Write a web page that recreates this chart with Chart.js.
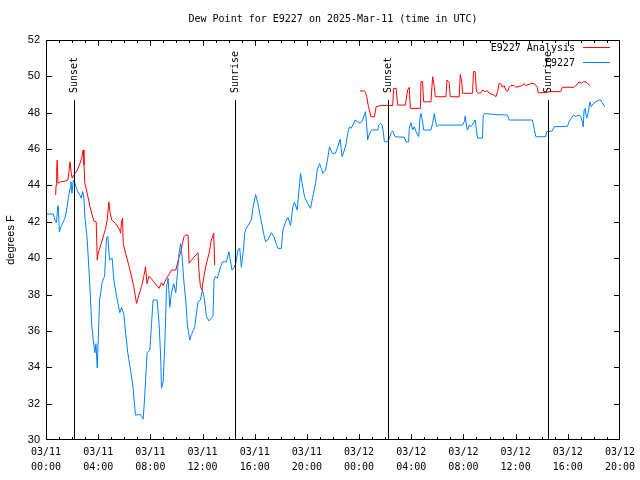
<!DOCTYPE html>
<html><head><meta charset="utf-8">
<script src="https://cdn.jsdelivr.net/npm/chart.js@4/dist/chart.umd.min.js"></script>
<style>html,body{margin:0;padding:0;background:#fff}#wrap{width:640px;height:480px}</style>
</head><body><div id="wrap"><canvas id="c" width="640" height="480"></canvas></div>
<script>
const titleText = 'Dew Point for E9227 on 2025-Mar-11 (time in UTC)';
const yAxisTitle = 'degrees F';
const seriesNames = ['E9227 Analysis', 'E9227'];
const tickDates = ['03/11','03/11','03/11','03/11','03/11','03/11','03/12','03/12','03/12','03/12','03/12','03/12'];
const tickTimes = ['00:00','04:00','08:00','12:00','16:00','20:00','00:00','04:00','08:00','12:00','16:00','20:00'];
const sunHours = [2.17, 14.48, 26.22, 38.51];
const sunLabels = ['Sunset', 'Sunrise', 'Sunset', 'Sunrise'];

// hours since 03/11 00:00 UTC
const obsHours = [0.08,0.56,0.69,0.80,0.90,0.94,1.02,1.19,1.45,1.58,1.71,1.84,1.91,1.99,2.09,2.17,2.30,2.43,2.60,2.70,2.81,2.91,2.98,3.16,3.34,3.50,3.62,3.75,3.83,3.93,4.00,4.11,4.31,4.49,4.64,4.74,4.87,5.07,5.20,5.41,5.66,5.79,5.97,6.10,6.27,6.48,6.68,6.86,7.25,7.45,7.55,7.75,7.96,8.09,8.21,8.52,8.67,8.80,8.85,8.98,9.11,9.24,9.36,9.49,9.62,9.79,9.95,10.08,10.20,10.33,10.43,10.56,10.71,10.84,11.02,11.15,11.40,11.65,11.84,11.99,12.11,12.30,12.50,12.68,12.80,12.88,12.99,13.14,13.31,13.52,13.83,14.03,14.13,14.26,14.39,14.54,14.72,14.85,14.98,15.15,15.23,15.36,15.74,15.86,16.07,16.25,16.38,16.51,16.68,16.83,17.01,17.27,17.47,17.65,17.78,18.04,18.16,18.37,18.54,18.75,18.92,19.05,19.26,19.44,19.51,19.64,19.82,20.07,20.28,20.45,20.66,20.79,20.97,21.10,21.22,21.43,21.60,21.73,21.94,22.19,22.37,22.55,22.70,22.88,23.01,23.13,23.26,23.39,23.52,23.70,23.90,24.10,24.28,24.41,24.49,24.59,24.66,24.74,24.87,24.97,25.43,25.51,25.63,25.77,25.86,25.94,26.19,26.32,26.45,26.58,26.76,27.47,27.60,27.80,27.85,27.98,28.11,28.24,28.37,28.57,28.67,28.75,28.87,28.95,29.51,29.64,29.77,29.84,29.97,30.10,31.93,32.06,32.14,32.24,32.32,32.45,32.58,32.83,32.90,33.00,33.08,33.46,33.52,33.67,34.36,35.38,35.51,37.29,37.42,37.55,38.31,38.39,38.82,38.95,39.97,40.10,40.27,40.43,40.61,40.86,40.99,41.12,41.19,41.25,41.32,41.45,41.55,41.70,41.80,41.96,42.14,42.39,42.52,42.65,42.83];
const obsDewF = [42.43,42.43,42.1,41.95,42.83,42.9,41.45,41.8,42.2,42.65,43.3,43.84,44.2,43.57,44.3,44.2,43.93,43.66,43.47,43.3,43.66,43.3,42.28,41.0,38.8,36.4,35.5,34.8,35.3,33.96,35.5,37.7,38.7,39.0,41.1,41.2,39.9,40.0,38.8,37.9,37.0,37.3,36.9,35.9,34.8,33.85,32.85,31.37,31.4,31.15,32.2,34.8,34.95,36.4,37.7,37.7,36.4,34.4,32.85,33.2,35.3,38.4,38.9,37.3,38.1,38.6,38.1,39.2,40.3,40.8,40.1,38.8,37.7,36.3,35.5,35.8,36.2,37.6,37.7,38.25,37.9,36.8,36.55,36.7,36.8,38.8,39.0,38.9,39.35,39.8,39.8,40.35,39.9,39.35,39.45,39.7,40.45,40.55,39.5,40.55,41.4,41.65,42.1,42.74,43.5,43.0,42.46,42.0,41.37,40.9,41.0,41.4,41.18,40.8,40.54,40.54,41.55,42.0,42.25,41.8,42.83,43.07,42.65,44.1,44.67,44.1,43.38,43.0,42.74,43.38,44.1,44.85,45.2,44.94,44.67,44.85,45.5,46.13,45.77,45.77,46.13,46.54,45.58,45.95,46.3,46.87,47.23,47.14,47.32,47.6,47.5,47.42,47.6,47.9,48.06,47.23,46.5,46.72,46.96,47.05,47.05,47.32,47.42,47.32,46.96,46.4,46.4,46.6,46.87,47.0,46.68,46.65,46.4,46.4,47.14,47.45,47.05,47.23,46.96,46.68,47.7,47.96,47.5,47.05,47.05,47.42,47.96,47.6,47.23,47.32,47.32,47.5,47.82,47.23,47.05,47.32,47.23,47.5,47.6,47.05,46.6,46.6,47.87,47.96,47.9,47.87,47.6,47.6,47.14,46.68,46.68,46.96,47.0,47.23,47.25,47.5,47.7,47.87,47.8,47.87,47.8,47.5,47.23,48.15,48.24,47.7,47.96,48.6,48.33,48.5,48.6,48.7,48.7,48.55,48.33];

const anaHours = [0.74,0.77,0.82,0.86,0.92,1.12,1.51,1.68,1.76,1.84,1.94,2.01,2.14,2.40,2.60,2.73,2.85,2.91,2.98,3.16,3.37,3.54,3.67,3.85,3.93,4.00,4.23,4.57,4.69,4.82,4.90,5.03,5.33,5.66,5.72,5.79,5.87,5.92,6.10,6.35,6.53,6.73,6.94,7.12,7.32,7.50,7.63,7.75,7.88,8.06,8.21,8.67,8.85,8.98,9.24,9.49,9.62,9.95,10.08,10.20,10.31,10.46,10.58,10.69,10.89,10.97,11.27,11.65,11.73,11.84,11.96,12.04,12.24,12.50,12.68,12.86,12.93,18.50,24.07,24.41,24.49,24.59,24.72,24.92,25.18,25.31,25.69,26.58,26.65,26.84,26.96,27.55,27.72,27.85,27.93,28.70,28.75,28.87,28.95,29.51,29.64,29.77,29.84,30.66,30.74,30.91,30.99,31.68,31.76,31.89,31.93,32.70,32.77,32.90,33.00,33.16,33.34,33.46,33.67,33.85,33.98,34.36,34.49,34.62,34.74,34.87,35.00,35.12,35.25,35.38,35.51,35.64,35.89,36.02,36.27,36.52,36.65,36.78,37.17,37.42,37.55,37.67,37.73,38.31,38.57,39.46,39.58,40.48,40.61,40.73,40.86,41.04,41.19,41.38,41.50,41.70];
const anaDewF = [43.47,44.0,44.85,45.4,44.12,44.2,44.25,44.3,44.76,45.3,44.67,44.4,44.57,44.85,45.2,45.5,45.95,45.12,44.12,43.57,42.83,42.37,42.04,42.0,39.9,40.27,40.8,41.64,42.1,43.1,42.55,42.1,41.92,41.55,41.37,42.0,42.2,40.8,40.27,39.6,39.07,38.43,37.52,37.97,38.43,39.0,39.53,38.6,39.0,38.9,38.75,38.34,38.65,38.5,38.9,39.17,39.35,39.35,39.72,40.08,40.27,40.82,41.18,41.27,41.27,39.72,40.0,40.3,39.26,38.43,38.25,38.7,39.53,40.27,41.0,41.37,39.62,null,49.2,49.2,49.1,48.88,48.33,47.78,47.78,48.33,48.4,48.4,49.34,49.34,48.42,48.42,49.25,49.4,48.24,48.24,49.71,49.71,48.6,48.6,49.98,49.43,48.88,48.88,49.8,49.66,48.88,48.88,50.11,49.6,49.07,49.07,50.26,50.26,49.16,49.07,49.1,49.25,49.16,49.2,49.07,48.97,48.88,49.16,49.62,49.58,49.4,49.5,49.25,49.16,49.4,49.5,49.5,49.4,49.45,49.5,49.6,49.5,49.6,49.6,49.5,49.4,49.1,49.1,49.16,49.16,49.4,49.4,49.5,49.55,49.7,49.62,49.7,49.7,49.62,49.5];

const RED = '#ff0000', BLUE = '#0080ff';
const MONO = '"DejaVu Sans Mono", "Liberation Mono", monospace';
const SANS = '"Liberation Sans", Arial, sans-serif';

const toXY = (xs, ys) => xs.map((x, i) => ({x: x, y: ys[i]}));

const decor = {
  id: 'decor',
  afterDraw(chart) {
    const ctx = chart.ctx, a = chart.chartArea;
    const xs = chart.scales.x, ys = chart.scales.y;
    ctx.save();
    ctx.fillStyle = '#000';
    const L = Math.round(a.left), R = Math.round(a.right) - 1, T = Math.round(a.top), B = Math.round(a.bottom) - 1;
    // sun lines
    const lineTopY = Math.round(a.bottom - (a.bottom - a.top) * 0.85);
    ctx.font = '10px ' + MONO;
    sunHours.forEach((h, i) => {
      const px = Math.round(xs.getPixelForValue(h));
      ctx.fillRect(px, lineTopY, 1, B - lineTopY);
      ctx.save();
      ctx.translate(px + 0.5, lineTopY - 7);
      ctx.rotate(-Math.PI / 2);
      ctx.textAlign = 'left'; ctx.textBaseline = 'middle';
      ctx.fillText(sunLabels[i], 0, 0);
      ctx.restore();
    });
    // frame
    ctx.fillRect(L, T, R - L + 1, 1);
    ctx.fillRect(L, B, R - L + 1, 1);
    ctx.fillRect(L, T, 1, B - T + 1);
    ctx.fillRect(R, T, 1, B - T + 1);
    for (let v = ys.min; v <= ys.max; v += 2) {
      const py = Math.round(ys.getPixelForValue(v));
      const yy = Math.min(Math.max(py, T), B);
      ctx.fillRect(L, yy, 6, 1);
      ctx.fillRect(R - 5, yy, 6, 1);
    }
    for (let h = xs.min; h <= xs.max; h += 1) {
      const px = Math.min(Math.max(Math.round(xs.getPixelForValue(h)), L), R);
      const len = (h % 4 === 0) ? 6 : 3;
      ctx.fillRect(px, B - len + 1, 1, len);
      ctx.fillRect(px, T, 1, len);
    }
    // title
    ctx.font = '10px ' + MONO;
    ctx.textAlign = 'center'; ctx.textBaseline = 'middle';
    ctx.fillText(titleText, (a.left + a.right) / 2, 19);
    // legend
    const colors = [RED, BLUE];
    seriesNames.forEach((name, i) => {
      const y = 48 + i * 15;
      ctx.fillStyle = '#000';
      ctx.textAlign = 'right';
      ctx.fillText(name, 575, y);
      ctx.fillStyle = colors[i];
      ctx.fillRect(583, y - 1, 27, 1);
    });
    ctx.restore();
  }
};

new Chart(document.getElementById('c'), {
  type: 'line',
  data: {
    datasets: [
      { label: seriesNames[0], data: toXY(anaHours, anaDewF), borderColor: RED, borderWidth: 1, pointRadius: 0, tension: 0, spanGaps: false, order: 2, fill: false },
      { label: seriesNames[1], data: toXY(obsHours, obsDewF), borderColor: BLUE, borderWidth: 1, pointRadius: 0, tension: 0, order: 1, fill: false }
    ]
  },
  options: {
    responsive: false, animation: false, devicePixelRatio: 1,
    layout: { padding: { top: 40, right: 19, left: 0, bottom: 0 } },
    plugins: { legend: { display: false }, title: { display: false }, tooltip: { enabled: false } },
    scales: {
      x: {
        type: 'linear', min: 0, max: 44,
        grid: { display: false, drawTicks: false }, border: { display: false },
        ticks: {
          stepSize: 4, autoSkip: false, maxRotation: 0, minRotation: 0, padding: 5,
          color: '#000', font: { family: MONO, size: 10, lineHeight: 1.5 },
          callback: (v) => { const i = Math.round(v / 4); return [tickDates[i], tickTimes[i]]; }
        },
        afterFit: (s) => { s.height = 40; }
      },
      y: {
        min: 30, max: 52,
        grid: { display: false, drawTicks: false }, border: { display: false },
        ticks: { stepSize: 2, padding: 6, color: '#000', font: { family: SANS, size: 11 } },
        title: { display: true, text: yAxisTitle, color: '#000', font: { family: SANS, size: 11 }, padding: { top: 4, bottom: 0 } },
        afterFit: (s) => { s.width = 46; }
      }
    }
  },
  plugins: [decor]
});
</script>
</body></html>
